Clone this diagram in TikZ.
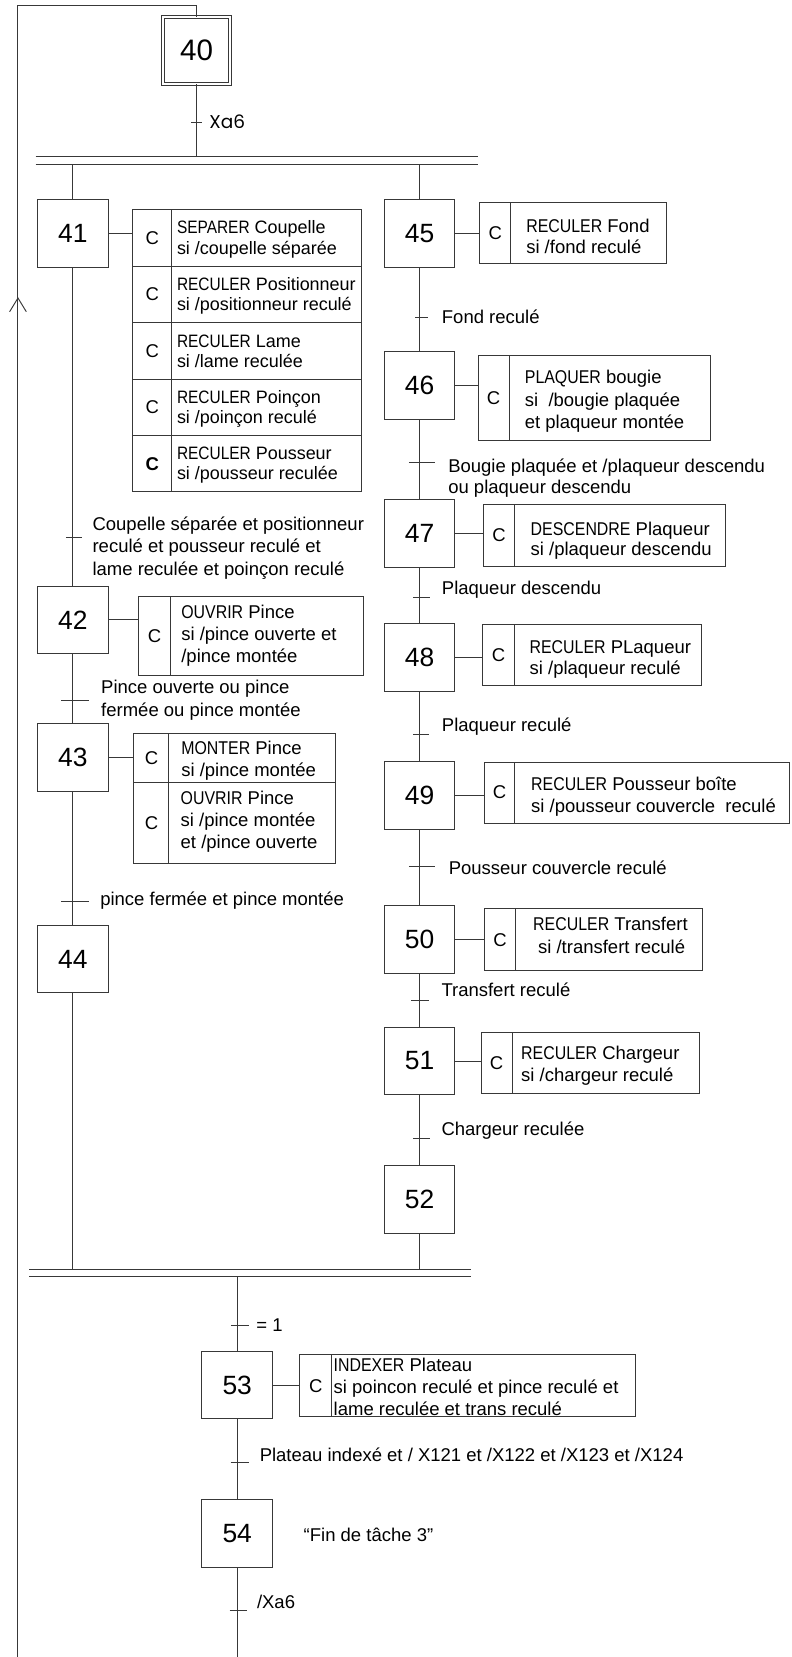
\documentclass[tikz,border=0pt]{standalone}
\usepackage{fontspec}
\setmainfont{Liberation Sans}
\newfontfamily\geofont{Poppins}
\newcommand\Sx{\rule{0pt}{14pt}}
\newcommand\Cz[1]{\scalebox{0.86}[1]{#1}}
\begin{document}
\begin{tikzpicture}[x=1pt,y=-1pt,
  ln/.style={draw=black!78,line width=0.9pt},
  stepbox/.style={ln,minimum width=67pt,minimum height=64pt,inner sep=0pt,font=\fontsize{25}{30}\selectfont},
  cell/.style={ln,anchor=north west,inner sep=0pt,font=\fontsize{17.5}{20}\selectfont},
  txt/.style={anchor=north west,inner sep=0pt,align=left,font=\fontsize{17.5}{20.5}\selectfont},
  txtA/.style={txt,font=\fontsize{17}{19}\selectfont},
  txtB/.style={txt,font=\fontsize{17.5}{21}\selectfont}
]
\useasboundingbox (0,0) rectangle (749,1568);

% ---------- steps ----------
\node[ln,double,double distance=1.8pt,minimum width=64pt,minimum height=63pt,inner sep=0pt,font=\fontsize{28}{32}\selectfont] (s40) at (186,47.7) {40};
\node[stepbox] (s41) at (69,221) {41};
\node[stepbox] (s42) at (69,586.6) {42};
\node[stepbox] (s43) at (69,717) {43};
\node[stepbox] (s44) at (69,907.5) {44};
\node[stepbox] (s45) at (397,221) {45};
\node[stepbox] (s46) at (397,364.5) {46};
\node[stepbox] (s47) at (397,505) {47};
\node[stepbox] (s48) at (397,622.3) {48};
\node[stepbox] (s49) at (397,752.5) {49};
\node[stepbox] (s50) at (397,889) {50};
\node[stepbox] (s51) at (397,1004) {51};
\node[stepbox] (s52) at (397,1134.8) {52};
\node[stepbox] (s53) at (224.5,1310.7) {53};
\node[stepbox] (s54) at (224.5,1451) {54};

% ---------- junction / transition coordinates ----------
\coordinate (j40) at (186,148.4);
\coordinate (j41) at (69,155.3);
\coordinate (j45) at (397,155.3);
\coordinate (j44) at (69,1201.4);
\coordinate (j52) at (397,1201.4);
\coordinate (j53) at (224.5,1207.7);
\coordinate (t40) at (186,115.7);
\coordinate (t41) at (69,508.8);
\coordinate (t42) at (69,662.9);
\coordinate (t43) at (69,853.2);
\coordinate (t45) at (397,300.8);
\coordinate (t46) at (397,437.8);
\coordinate (t47) at (397,565);
\coordinate (t48) at (397,695);
\coordinate (t49) at (397,820);
\coordinate (t50) at (397,946.3);
\coordinate (t51) at (397,1077.3);
\coordinate (t52) at (224.5,1253.8);
\coordinate (t53) at (224.5,1383.5);
\coordinate (t54) at (224.5,1524);
\coordinate (lb) at (17,1568);
\coordinate (lt) at (17,5.4);
\coordinate (lr) at (186,5.4);
\coordinate (ar) at (17,282);
\coordinate (e54) at (224.5,1568);

% ---------- double bars ----------
\draw[ln] (33.8,148.4) -- (452,148.4);
\draw[ln] (33.8,155.3) -- (452,155.3);
\draw[ln] (27.5,1201.4) -- (446,1201.4);
\draw[ln] (27.5,1207.7) -- (446,1207.7);

% ---------- connectors ----------
\draw[ln] (lb) -- (lt) -- (lr) -- (s40.north);
\draw[ln] ([shift={(-7.9,13)}]ar) -- (ar) -- ([shift={(7.9,13)}]ar);
\draw[ln] (s40.south) -- (j40);
\draw[ln] (j41) -- (s41.north);
\draw[ln] (j45) -- (s45.north);
\draw[ln] (s41.south) -- (s42.north);
\draw[ln] (s42.south) -- (s43.north);
\draw[ln] (s43.south) -- (s44.north);
\draw[ln] (s44.south) -- (j44);
\draw[ln] (s45.south) -- (s46.north);
\draw[ln] (s46.south) -- (s47.north);
\draw[ln] (s47.south) -- (s48.north);
\draw[ln] (s48.south) -- (s49.north);
\draw[ln] (s49.south) -- (s50.north);
\draw[ln] (s50.south) -- (s51.north);
\draw[ln] (s51.south) -- (s52.north);
\draw[ln] (s52.south) -- (j52);
\draw[ln] (j53) -- (s53.north);
\draw[ln] (s53.south) -- (s54.north);
\draw[ln] (s54.south) -- (e54);

% ---------- transition ticks ----------
\draw[ln] ([xshift=-5pt]t40) -- ([xshift=5pt]t40);
\draw[ln] ([xshift=-6.6pt]t41) -- ([xshift=8.8pt]t41);
\draw[ln] ([xshift=-11pt]t42) -- ([xshift=15pt]t42);
\draw[ln] ([xshift=-11pt]t43) -- ([xshift=15pt]t43);
\draw[ln] ([xshift=-4pt]t45) -- ([xshift=8pt]t45);
\draw[ln] ([xshift=-10pt]t46) -- ([xshift=15pt]t46);
\draw[ln] ([xshift=-6pt]t47) -- ([xshift=9.5pt]t47);
\draw[ln] ([xshift=-6pt]t48) -- ([xshift=9pt]t48);
\draw[ln] ([xshift=-10pt]t49) -- ([xshift=15pt]t49);
\draw[ln] ([xshift=-8pt]t50) -- ([xshift=9pt]t50);
\draw[ln] ([xshift=-6pt]t51) -- ([xshift=10pt]t51);
\draw[ln] ([xshift=-6pt]t52) -- ([xshift=11pt]t52);
\draw[ln] ([xshift=-6.3pt]t53) -- ([xshift=11pt]t53);
\draw[ln] ([xshift=-7.3pt]t54) -- ([xshift=9.5pt]t54);

% ---------- transition labels ----------
\node[txt,font=\geofont\fontsize{17.5}{20.5}\selectfont] (l40) at (198,107.5) {\Sx Xa6};
\node[txtB] (l41) at (87.4,488) {\Sx Coupelle séparée et positionneur\\reculé et pousseur reculé et\\lame reculée et poinçon reculé};
\node[txtB] (l42) at (95.6,642.5) {\Sx Pince ouverte ou pince\\fermée ou pince montée};
\node[txt] (l43) at (94.7,843) {\Sx pince fermée et pince montée};
\node[txt] (l45) at (418,292.2) {\Sx Fond reculé};
\node[txt] (l46) at (424,432.6) {\Sx Bougie plaquée et /plaqueur descendu\\ou plaqueur descendu};
\node[txt] (l47) at (418,548.5) {\Sx Plaqueur descendu};
\node[txt] (l48) at (418,678) {\Sx Plaqueur reculé};
\node[txt] (l49) at (424.5,813) {\Sx Pousseur couvercle reculé};
\node[txt] (l50) at (417.6,929.2) {\Sx Transfert reculé};
\node[txt] (l51) at (417.6,1059.9) {\Sx Chargeur reculée};
\node[txt] (l52) at (242.4,1245.5) {\Sx = 1};
\node[txt] (l53) at (245.6,1368.6) {\Sx Plateau indexé et / X121 et /X122 et /X123 et /X124};
\node[txt] (l54a) at (287.2,1444.3) {\Sx “Fin de tâche 3”};
\node[txt] (l54) at (243,1507.5) {\Sx /Xa6};

% ---------- action 41 ----------
\node[cell,minimum width=36.7pt,minimum height=53.36pt] (c41a) at (125.3,198.2) {C};
\node[cell,minimum width=179.9pt,minimum height=53.36pt] (b41a) at (162,198.2) {};
\node[cell,minimum width=36.7pt,minimum height=53.36pt] (c41b) at (125.3,251.56) {C};
\node[cell,minimum width=179.9pt,minimum height=53.36pt] (b41b) at (162,251.56) {};
\node[cell,minimum width=36.7pt,minimum height=53.36pt] (c41c) at (125.3,304.92) {C};
\node[cell,minimum width=179.9pt,minimum height=53.36pt] (b41c) at (162,304.92) {};
\node[cell,minimum width=36.7pt,minimum height=53.36pt] (c41d) at (125.3,358.28) {C};
\node[cell,minimum width=179.9pt,minimum height=53.36pt] (b41d) at (162,358.28) {};
\node[cell,minimum width=36.7pt,minimum height=53.36pt] (c41e) at (125.3,411.64) {\textbf{C}};
\node[cell,minimum width=179.9pt,minimum height=53.36pt] (b41e) at (162,411.64) {};
\node[txtA] (x41a) at (167.3,207.2) {\Sx\Cz{SEPARER} Coupelle\\si /coupelle séparée};
\node[txtA] (x41b) at (167.3,260.6) {\Sx\Cz{RECULER} Positionneur\\si /positionneur reculé};
\node[txtA] (x41c) at (167.3,314.2) {\Sx\Cz{RECULER} Lame\\si /lame reculée};
\node[txtA] (x41d) at (167.3,367.9) {\Sx\Cz{RECULER} Poinçon\\si /poinçon reculé};
\node[txtA] (x41e) at (167.3,420.9) {\Sx\Cz{RECULER} Pousseur\\si /pousseur reculée};
\draw[ln] (s41.east) -- (s41.east -| c41a.west);

% ---------- action 42 ----------
\node[cell,minimum width=30.9pt,minimum height=74.8pt] (c42) at (130.4,564.4) {C};
\node[cell,minimum width=182.2pt,minimum height=74.8pt] (b42) at (161.3,564.4) {};
\node[txtB] (x42) at (171.4,570.6) {\Sx\Cz{OUVRIR} Pince\\si /pince ouverte et\\/pince montée};
\draw[ln] (s42.east) -- (s42.east -| c42.west);

% ---------- action 43 ----------
\node[cell,minimum width=33.1pt,minimum height=46.1pt] (c43a) at (126.3,693.5) {C};
\node[cell,minimum width=157.2pt,minimum height=46.1pt] (b43a) at (159.4,693.5) {};
\node[cell,minimum width=33.1pt,minimum height=77pt] (c43b) at (126.3,739.6) {C};
\node[cell,minimum width=157.2pt,minimum height=77pt] (b43b) at (159.4,739.6) {};
\node[txtB] (x43a) at (171.4,699.4) {\Sx\Cz{MONTER} Pince\\si /pince montée};
\node[txtB] (x43b) at (170.8,746.7) {\Sx\Cz{OUVRIR} Pince\\si /pince montée\\et /pince ouverte};
\draw[ln] (s43.east) -- (s43.east -| c43a.west);

% ---------- action 45 ----------
\node[cell,minimum width=29.4pt,minimum height=58pt] (c45) at (453.6,191) {C};
\node[cell,minimum width=147pt,minimum height=58pt] (b45) at (483,191) {};
\node[txt] (x45) at (497.8,205.4) {\Sx\Cz{RECULER} Fond\\si /fond reculé};
\draw[ln] (s45.east) -- (s45.east -| c45.west);

% ---------- action 46 ----------
\node[cell,minimum width=29.4pt,minimum height=81.2pt] (c46) at (452,335.5) {C};
\node[cell,minimum width=190.3pt,minimum height=81.2pt] (b46) at (481.4,335.5) {};
\node[txtB] (x46) at (496.5,349) {\Sx\Cz{PLAQUER} bougie\\si \ /bougie plaquée\\et plaqueur montée};
\draw[ln] (s46.east) -- (s46.east -| c46.west);

% ---------- action 47 ----------
\node[cell,minimum width=29.7pt,minimum height=58.7pt] (c47) at (457,477) {C};
\node[cell,minimum width=199.3pt,minimum height=58.7pt] (b47) at (486.7,477) {};
\node[txtA,font=\fontsize{17.5}{19}\selectfont] (x47) at (502,492.6) {\Sx\Cz{DESCENDRE} Plaqueur\\si /plaqueur descendu};
\draw[ln] (s47.east) -- (s47.east -| c47.west);

% ---------- action 48 ----------
\node[cell,minimum width=29.6pt,minimum height=57.7pt] (c48) at (456.4,590.3) {C};
\node[cell,minimum width=176.9pt,minimum height=57.7pt] (b48) at (486,590.3) {};
\node[txt] (x48) at (501,604) {\Sx\Cz{RECULER} PLaqueur\\si /plaqueur reculé};
\draw[ln] (s48.east) -- (s48.east -| c48.west);

% ---------- action 49 ----------
\node[cell,minimum width=29pt,minimum height=57.8pt] (c49) at (457.7,720.6) {C};
\node[cell,minimum width=260.3pt,minimum height=57.8pt] (b49) at (486.7,720.6) {};
\node[txtB] (x49) at (502.5,733.5) {\Sx\Cz{RECULER} Pousseur boîte\\si /pousseur couvercle \ reculé};
\draw[ln] (s49.east) -- (s49.east -| c49.west);

% ---------- action 50 ----------
\node[cell,minimum width=29.7pt,minimum height=58.5pt] (c50) at (458,859.5) {C};
\node[cell,minimum width=176.3pt,minimum height=58.5pt] (b50) at (487.7,859.5) {};
\node[txtB] (x50) at (504.4,866.7) {\Sx\Cz{RECULER} Transfert\\\hspace*{4.6pt}si /transfert reculé};
\draw[ln] (s50.east) -- (s50.east -| c50.west);

% ---------- action 51 ----------
\node[cell,minimum width=29.4pt,minimum height=58.1pt] (c51) at (454.8,976.3) {C};
\node[cell,minimum width=177.1pt,minimum height=58.1pt] (b51) at (484.2,976.3) {};
\node[txtB] (x51) at (493,988.2) {\Sx\Cz{RECULER} Chargeur\\si /chargeur reculé};
\draw[ln] (s51.east) -- (s51.east -| c51.west);

% ---------- action 53 ----------
\node[cell,minimum width=30pt,minimum height=58.5pt] (c53) at (283.4,1281.5) {C};
\node[cell,minimum width=287.2pt,minimum height=58.5pt] (b53) at (313.4,1281.5) {};
\node[txtB] (x53) at (315.6,1283.3) {\Sx\Cz{INDEXER} Plateau\\si poincon reculé et pince reculé et\\lame reculée et trans reculé};
\draw[ln] (s53.east) -- (s53.east -| c53.west);

\end{tikzpicture}
\end{document}
